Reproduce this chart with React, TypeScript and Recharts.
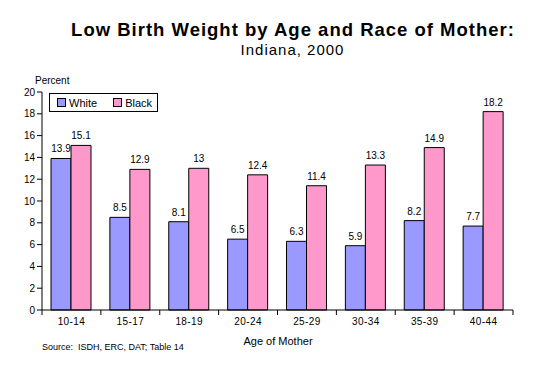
import { Bar, BarChart, LabelList, XAxis, YAxis } from 'recharts'

const ageGroups = ['10-14', '15-17', '18-19', '20-24', '25-29', '30-34', '35-39', '40-44']
const whiteValues = [13.9, 8.5, 8.1, 6.5, 6.3, 5.9, 8.2, 7.7]
const blackValues = [15.1, 12.9, 13, 12.4, 11.4, 13.3, 14.9, 18.2]
const yTicks = [0, 2, 4, 6, 8, 10, 12, 14, 16, 18, 20]

const data = ageGroups.map((age, i) => ({ age, white: whiteValues[i], black: blackValues[i] }))

const FONT = '"Liberation Sans", Arial, sans-serif'
const WHITE_COLOR = '#9999FF'
const BLACK_COLOR = '#FF99CC'
const PLOT_LEFT = 42
const PLOT_RIGHT = 513
const BAND = (PLOT_RIGHT - PLOT_LEFT) / ageGroups.length

function BoundaryTick(props: { x?: number; y?: number; payload?: { value: string; index: number } }) {
  const { x = 0, y = 0, payload } = props
  const left = x - BAND / 2
  const isLast = payload && payload.index === ageGroups.length - 1
  return (
    <g>
      <line x1={left} y1={y - 8} x2={left} y2={y - 3} stroke="#000" />
      {isLast && <line x1={left + BAND} y1={y - 8} x2={left + BAND} y2={y - 3} stroke="#000" />}
      <text x={x} y={y + 7} textAnchor="middle" fontSize={10} fontFamily={FONT} fill="#000" letterSpacing={0.4}>
        {payload?.value}
      </text>
    </g>
  )
}

function LegendBox() {
  const item = (label: string, color: string) => (
    <span style={{ display: 'inline-flex', alignItems: 'center', gap: 3, marginRight: 16 }}>
      <span style={{ width: 7, height: 7, background: color, border: '1px solid #000', display: 'inline-block' }} />
      <span>{label}</span>
    </span>
  )
  return (
    <div
      style={{
        position: 'absolute',
        left: 49,
        top: 93,
        border: '1px solid #000',
        width: 109,
        height: 19,
        boxSizing: 'border-box',
        display: 'flex',
        alignItems: 'center',
        paddingLeft: 7,
        fontSize: 11,
        fontFamily: FONT,
        background: '#fff',
        zIndex: 2,
      }}
    >
      {item('White', WHITE_COLOR)}
      {item('Black', BLACK_COLOR)}
    </div>
  )
}

export default function App() {
  return (
    <div style={{ position: 'absolute', left: 0, top: 0, width: 540, height: 370, background: '#fff', fontFamily: FONT }}>
      <div
        style={{
          position: 'absolute',
          left: 0,
          width: 586,
          top: 19,
          textAlign: 'center',
          fontSize: 18.5,
          fontWeight: 'bold',
          letterSpacing: 1,
          color: '#000',
        }}
      >
        Low Birth Weight by Age and Race of Mother:
      </div>
      <div style={{ position: 'absolute', left: 0, width: 585, top: 41, textAlign: 'center', fontSize: 15, letterSpacing: 1, color: '#000' }}>
        Indiana, 2000
      </div>
      <div style={{ position: 'absolute', left: 35, top: 75, fontSize: 10 }}>Percent</div>
      <div style={{ position: 'absolute', left: 0, width: 556, top: 335, textAlign: 'center', fontSize: 11 }}>Age of Mother</div>
      <div style={{ position: 'absolute', left: 42, top: 342, fontSize: 9 }}>Source:&nbsp; ISDH, ERC, DAT; Table 14</div>
      <LegendBox />
      <BarChart
        width={540}
        height={370}
        data={data}
        margin={{ top: 92, right: 540 - PLOT_RIGHT, bottom: 30, left: 0 }}
        barSize={20}
        barGap={0}
        style={{ position: 'absolute', left: 0, top: 0 }}
      >
        <XAxis
          dataKey="age"
          height={30}
          axisLine={{ stroke: '#000' }}
          tickLine={false}
          tick={<BoundaryTick />}
          interval={0}
        />
        <XAxis xAxisId="top" orientation="top" dataKey="age" height={0} tick={false} tickLine={false} axisLine={{ stroke: '#000' }} />
        <YAxis
          domain={[0, 20]}
          ticks={yTicks}
          width={PLOT_LEFT}
          axisLine={{ stroke: '#000' }}
          tickLine={{ stroke: '#000' }}
          tickSize={5}
          tick={{ fontSize: 10, fill: '#000', fontFamily: FONT }}
        />
        <YAxis yAxisId="right" orientation="right" width={0} tick={false} tickLine={false} axisLine={{ stroke: '#000' }} />
        <Bar dataKey="white" name="White" fill={WHITE_COLOR} stroke="#000" strokeWidth={1} isAnimationActive={false}>
          <LabelList dataKey="white" position="top" offset={6} fontSize={10} fill="#000" fontFamily={FONT} />
        </Bar>
        <Bar dataKey="black" name="Black" fill={BLACK_COLOR} stroke="#000" strokeWidth={1} isAnimationActive={false}>
          <LabelList dataKey="black" position="top" offset={6} fontSize={10} fill="#000" fontFamily={FONT} />
        </Bar>
      </BarChart>
    </div>
  )
}
